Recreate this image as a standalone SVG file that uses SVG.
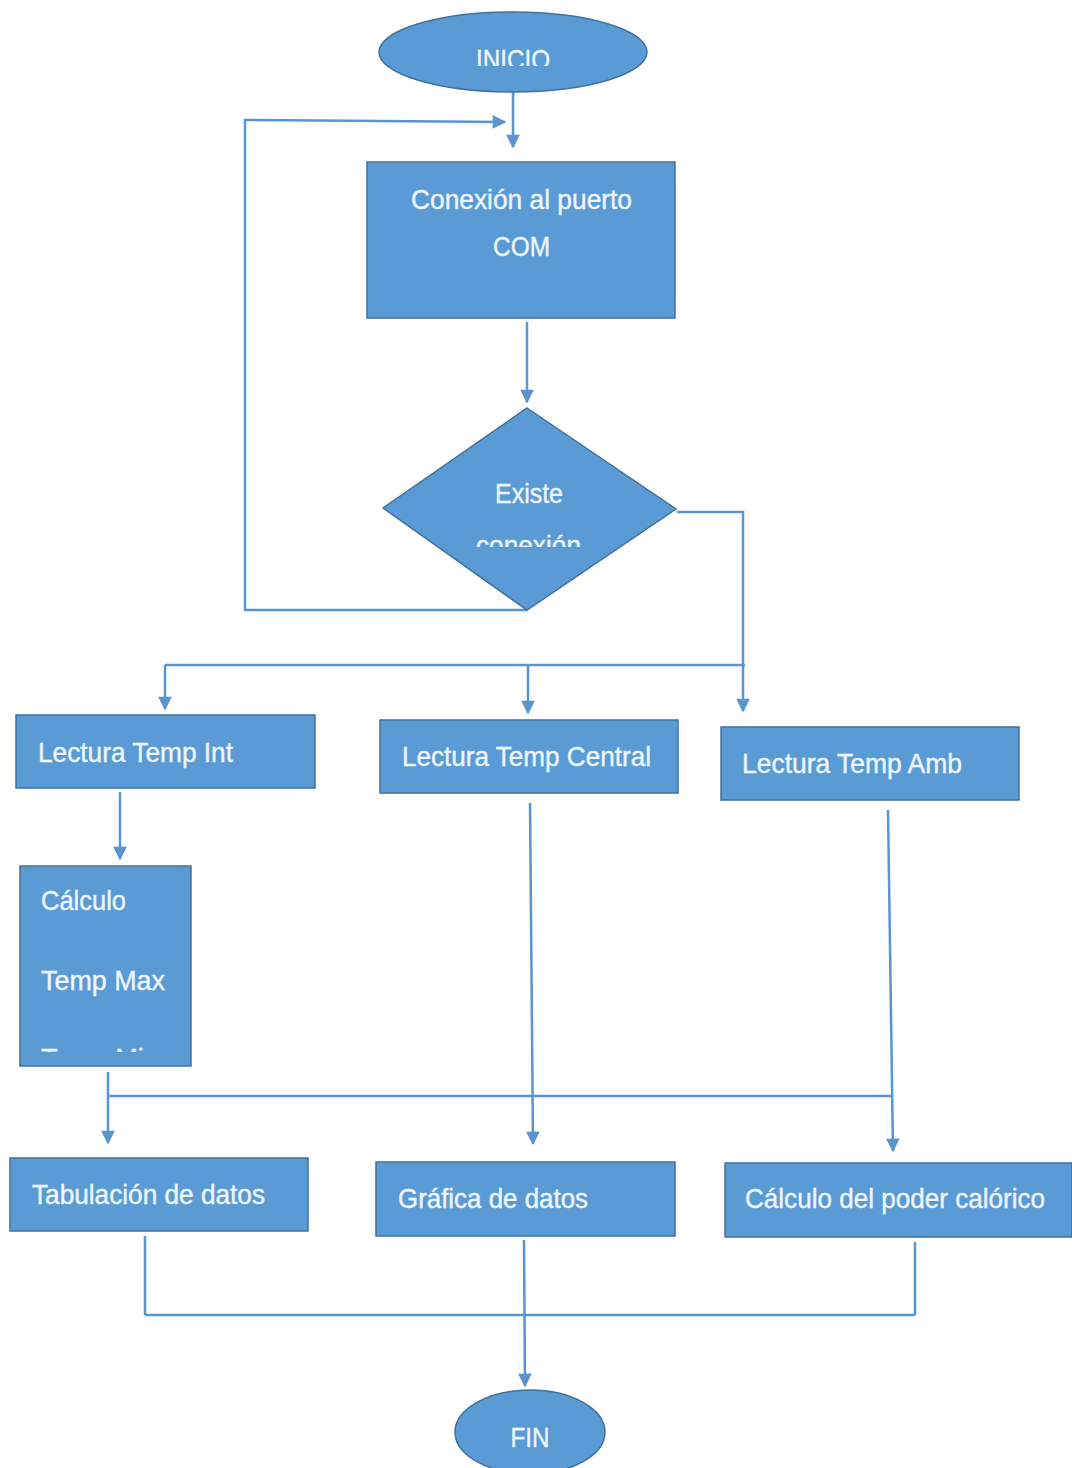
<svg xmlns="http://www.w3.org/2000/svg" width="1072" height="1468" viewBox="0 0 1072 1468">
<defs>
<style>
.shape{fill:#5b9bd5;stroke:#41719c;stroke-width:1.5}
.t{font-family:"Liberation Sans",Arial,sans-serif;font-size:28px;fill:#eef6ff;stroke:#eef6ff;stroke-width:0.4}
.c{fill:none;stroke:#5b95cf;stroke-width:2.5}
</style>
<marker id="ah" viewBox="0 0 10 10" refX="9" refY="5" markerWidth="6" markerHeight="5.5" orient="auto" markerUnits="strokeWidth">
<path d="M0,0 L10,5 L0,10 z" fill="#5b95cf"/>
</marker>
<clipPath id="clipInicio"><rect x="380" y="10" width="270" height="56"/></clipPath>
<clipPath id="clipDiamond"><rect x="380" y="400" width="300" height="147"/></clipPath>
<clipPath id="clipCalc"><rect x="20" y="866" width="172" height="186"/></clipPath>
</defs>
<rect width="1072" height="1468" fill="#ffffff"/>

<g id="connectors">
<line class="c" x1="513" y1="92" x2="513" y2="147" marker-end="url(#ah)"/>
<polyline class="c" points="527,610 245,610 245,120 505,122" marker-end="url(#ah)"/>
<line class="c" x1="527" y1="322" x2="527" y2="402" marker-end="url(#ah)"/>
<polyline class="c" points="677,512 743,512 743,711" marker-end="url(#ah)"/>
<line class="c" x1="165" y1="665" x2="745" y2="665"/>
<line class="c" x1="165" y1="665" x2="165" y2="709" marker-end="url(#ah)"/>
<line class="c" x1="528" y1="665" x2="528" y2="713" marker-end="url(#ah)"/>
<line class="c" x1="120" y1="792" x2="120" y2="859" marker-end="url(#ah)"/>
<line class="c" x1="108" y1="1072" x2="108" y2="1143" marker-end="url(#ah)"/>
<line class="c" x1="108" y1="1096" x2="893" y2="1096"/>
<line class="c" x1="530" y1="803" x2="533" y2="1144" marker-end="url(#ah)"/>
<line class="c" x1="888" y1="810" x2="893" y2="1151" marker-end="url(#ah)"/>
<line class="c" x1="145" y1="1236" x2="145" y2="1315"/>
<line class="c" x1="915" y1="1242" x2="915" y2="1315"/>
<line class="c" x1="145" y1="1315" x2="915" y2="1315"/>
<line class="c" x1="524" y1="1240" x2="525" y2="1386" marker-end="url(#ah)"/>
</g>

<g id="inicio">
<ellipse class="shape" cx="513" cy="52" rx="134" ry="40"/>
<text class="t" x="513" y="69" text-anchor="middle" textLength="74" lengthAdjust="spacingAndGlyphs" clip-path="url(#clipInicio)">INICIO</text>
</g>

<g id="conexion">
<rect class="shape" x="367" y="162" width="308" height="156"/>
<text class="t" x="411" y="209" textLength="221" lengthAdjust="spacingAndGlyphs">Conexión al puerto</text>
<text class="t" x="493" y="256" textLength="57" lengthAdjust="spacingAndGlyphs">COM</text>
</g>

<g id="existe">
<polygon class="shape" points="527,408 676,509 527,610 383,508"/>
<text class="t" x="495" y="503" textLength="68" lengthAdjust="spacingAndGlyphs">Existe</text>
<text class="t" x="476" y="555" textLength="105" lengthAdjust="spacingAndGlyphs" clip-path="url(#clipDiamond)">conexión</text>
</g>

<g id="temp-int">
<rect class="shape" x="16" y="715" width="299" height="73"/>
<text class="t" x="38" y="762" textLength="195" lengthAdjust="spacingAndGlyphs">Lectura Temp Int</text>
</g>

<g id="temp-central">
<rect class="shape" x="380" y="720" width="298" height="73"/>
<text class="t" x="402" y="766" textLength="249" lengthAdjust="spacingAndGlyphs">Lectura Temp Central</text>
</g>

<g id="temp-amb">
<rect class="shape" x="721" y="727" width="298" height="73"/>
<text class="t" x="742" y="773" textLength="220" lengthAdjust="spacingAndGlyphs">Lectura Temp Amb</text>
</g>

<g id="calculo">
<rect class="shape" x="20" y="866" width="171" height="200"/>
<text class="t" x="41" y="910" textLength="85" lengthAdjust="spacingAndGlyphs">Cálculo</text>
<text class="t" x="41" y="990" textLength="124" lengthAdjust="spacingAndGlyphs">Temp Max</text>
<text class="t" x="41" y="1068" textLength="118" lengthAdjust="spacingAndGlyphs" clip-path="url(#clipCalc)">Temp Min</text>
</g>

<g id="tabulacion">
<rect class="shape" x="10" y="1158" width="298" height="73"/>
<text class="t" x="32" y="1204" textLength="233" lengthAdjust="spacingAndGlyphs">Tabulación de datos</text>
</g>

<g id="grafica">
<rect class="shape" x="376" y="1162" width="299" height="74"/>
<text class="t" x="398" y="1208" textLength="190" lengthAdjust="spacingAndGlyphs">Gráfica de datos</text>
</g>

<g id="poder">
<rect class="shape" x="725" y="1163" width="347" height="74"/>
<text class="t" x="745" y="1208" textLength="300" lengthAdjust="spacingAndGlyphs">Cálculo del poder calórico</text>
</g>

<g id="fin">
<ellipse class="shape" cx="530" cy="1432" rx="75" ry="42"/>
<text class="t" x="530" y="1447" text-anchor="middle" textLength="39" lengthAdjust="spacingAndGlyphs">FIN</text>
</g>
</svg>
